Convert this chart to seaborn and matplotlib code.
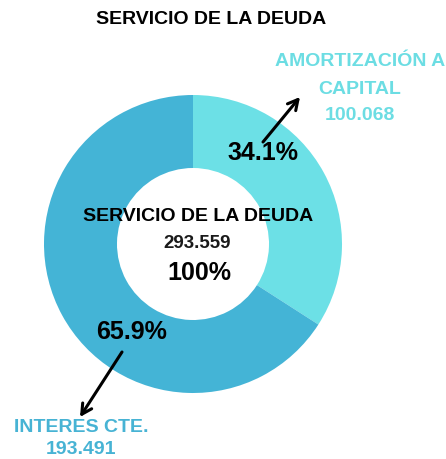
import matplotlib
matplotlib.use("Agg")
import matplotlib.pyplot as plt
import seaborn as sns

# ---- data ----
categories = ["AMORTIZACIÓN A\nCAPITAL", "INTERES CTE."]
values = [100068, 193491]
value_labels = ["100.068", "193.491"]
pct_labels = ["34.1%", "65.9%"]
total_label = "293.559"
title = "SERVICIO DE LA DEUDA"

sns.set_theme(style="white")
plt.rcParams["font.family"] = ["Liberation Sans", "DejaVu Sans"]

light = "#6CE0E6"
dark = "#44B4D6"
colors = [light, dark]

W, H = 446, 459
fig = plt.figure(figsize=(W / 100, H / 100), dpi=100)
ax = fig.add_axes([0, 0, 1, 1])

def Y(y):
    return H - y

cx, cy = 193, 244
R_out, R_in = 149, 76
ax.pie(values, colors=colors, startangle=90, counterclock=False,
       center=(cx, Y(cy)), radius=R_out,
       wedgeprops=dict(width=R_out - R_in, linewidth=0))
ax.set_xlim(0, W)
ax.set_ylim(0, H)
ax.set_aspect("equal")
ax.axis("off")

# title
ax.text(211, Y(19), title, ha="center", va="center", fontsize=14,
        fontweight="bold", color="black")

# center text
ax.text(198, Y(216.5), title, ha="center", va="center", fontsize=14,
        fontweight="bold", color="black")
ax.text(197, Y(243.5), total_label, ha="center", va="center", fontsize=13.5,
        fontweight="bold", color="#1a1a1a")
ax.text(199, Y(273), "100%", ha="center", va="center", fontsize=18,
        fontweight="bold", color="black")

# percentage labels
ax.text(263, Y(153), pct_labels[0], ha="center", va="center", fontsize=18,
        fontweight="bold", color="black")
ax.text(132, Y(332), pct_labels[1], ha="center", va="center", fontsize=18,
        fontweight="bold", color="black")

# category labels (one line per text)
c_light = "#6CDDE3"
c_dark = "#47B3D4"
lines_a = categories[0].split("\n") + [value_labels[0]]
for yy, s in zip([62, 89, 116], lines_a):
    ax.text(360, Y(yy), s, ha="center", va="center", fontsize=14,
            fontweight="bold", color=c_light)
lines_b = [categories[1], value_labels[1]]
for yy, s in zip([427, 450], lines_b):
    ax.text(81, Y(yy), s, ha="center", va="center", fontsize=14,
            fontweight="bold", color=c_dark)

# arrows
arrow = dict(arrowstyle="->,head_length=0.6,head_width=0.32", color="black",
             lw=2.2, shrinkA=0, shrinkB=0)
ax.annotate("", xy=(300, Y(97)), xytext=(263, Y(142)), arrowprops=arrow)
ax.annotate("", xy=(80, Y(417)), xytext=(122, Y(352)), arrowprops=arrow)

fig.savefig("out.png", dpi=100, facecolor="white")
